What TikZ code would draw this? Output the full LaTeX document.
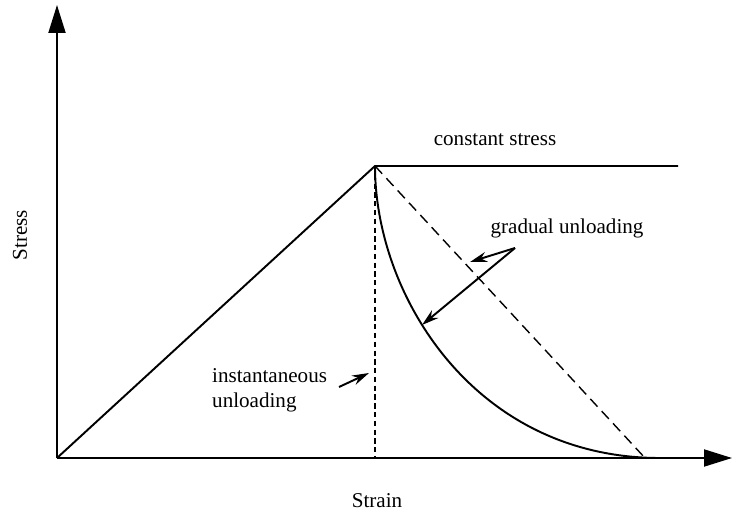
\documentclass[tikz,border=0pt]{standalone}
\usepackage{fontspec}
\setmainfont{Liberation Serif}
\usetikzlibrary{calc}
\usetikzlibrary{arrows.meta}

\begin{document}
\begin{tikzpicture}[]
\useasboundingbox (0,0) rectangle (14.64,10.42);
\tikzset{achse/.style={line width=1.1pt,-{Triangle[length=0.56cm,width=0.34cm]}},
         hinweis/.style={line width=1.1pt,-{Stealth[length=0.34cm,width=0.2cm]}},
         txt/.style={font=\fontsize{12}{14}\selectfont}}
\coordinate (O) at (1.14,1.26);
\coordinate (Y) at (1.14,10.32);
\coordinate (X) at (14.64,1.26);
\coordinate (P) at (7.5,7.1);
\coordinate (K) at (13.56,7.1);
\coordinate (D) at (12.9,1.26);
\coordinate (E) at (13.2,1.26);
\coordinate (F) at (7.5,1.26);
\def\kurveA{4.5}
\def\kurveB{9.5}
\draw[achse] (O) -- (Y);
\draw[achse] (O) -- (X);
\draw [line width=1.1pt] (O) -- (P) -- (K);
\draw [line width=0.8pt, dash pattern=on 6pt off 3.5pt] (P) -- (D);
\draw [line width=0.8pt, dash pattern=on 3pt off 2pt] (P) -- (F);
\draw [line width=1.1pt] (P) .. controls (7.5,\kurveA) and (\kurveB,1.26) .. (E);
\node[txt] (konst) at (9.9,7.62) {constant stress};
\node[txt] (grad) at (11.34,5.86) {gradual unloading};
\node[txt, anchor=west, align=left] (inst) at (4.12,2.62) {instantaneous\\unloading};
\node[txt] (strain) at (7.54,0.4) {Strain};
\node[txt, rotate=90] (stress) at (0.4,5.72) {Stress};
\coordinate (G) at (10.3,5.46);
\coordinate (G1) at (9.4,5.18);
\coordinate (G2) at (8.44,3.92);
\coordinate (I) at (6.78,2.68);
\coordinate (I1) at (7.38,2.96);
\draw[hinweis] (G) -- (G1);
\draw[hinweis] (G) -- (G2);
\draw[hinweis] (I) -- (I1);
\end{tikzpicture}
\end{document}
